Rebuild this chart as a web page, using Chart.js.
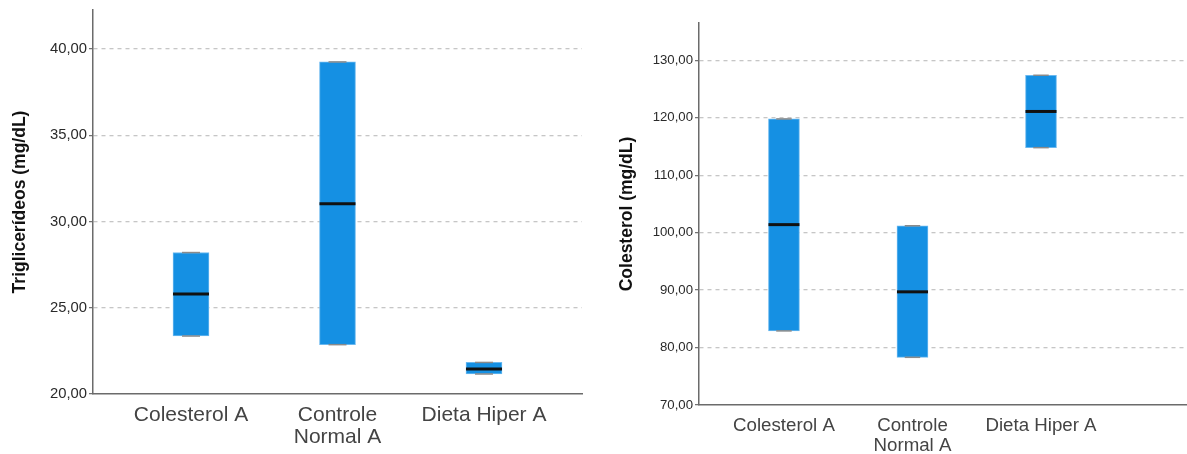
<!DOCTYPE html>
<html>
<head>
<meta charset="utf-8">
<script src="https://cdn.jsdelivr.net/npm/chart.js@4/dist/chart.umd.min.js"></script>
<style>
  body { margin: 0; background: #fff; width: 1187px; height: 454px; overflow: hidden; position: relative; }
  .box { position: absolute; top: 0; height: 454px; }
  #leftBox { left: 0; width: 590px; }
  #rightBox { left: 600px; width: 587px; }
</style>
</head>
<body>
<div class="box" id="leftBox"><canvas id="trigChart"></canvas></div>
<div class="box" id="rightBox"><canvas id="colChart"></canvas></div>
<script>
// Groups on the x axis
const categories = ['Colesterol A', 'Controle Normal A', 'Dieta Hiper A'];
const categoryLabels = ['Colesterol A', ['Controle', 'Normal A'], 'Dieta Hiper A'];

// Triglicerídeos (mg/dL): box low / high and median
const trigLow = [23.36, 22.86, 21.16];
const trigHigh = [28.20, 39.25, 21.83];
const trigMedian = [25.80, 31.03, 21.45];
const trigTicks = [20, 25, 30, 35, 40];

// Colesterol (mg/dL): box low / high and median
const colLow = [82.9, 78.3, 114.8];
const colHigh = [119.8, 101.2, 127.4];
const colMedian = [101.4, 89.7, 121.1];
const colTicks = [70, 80, 90, 100, 110, 120, 130];

const FONT = "Arial, 'Liberation Sans', sans-serif";

function fmt(v) {
    return v.toFixed(2).replace('.', ',');
}

function makeChart(id, opt) {
    const boxes = categories.map((c, i) => ({ x: i, y: [opt.low[i], opt.high[i]] }));
    const medians = categories.map((c, i) => ({ x: i, y: opt.median[i] }));
    const caps = [];
    categories.forEach((c, i) => {
        caps.push({ x: i, y: opt.low[i] });
        caps.push({ x: i, y: opt.high[i] });
    });

    return new Chart(document.getElementById(id), {
        type: 'bar',
        data: {
            datasets: [{
                type: 'scatter',
                data: medians,
                pointStyle: 'line',
                pointRadius: opt.boxWidth / 2,
                pointHoverRadius: opt.boxWidth / 2,
                pointBorderWidth: 3,
                pointBorderColor: '#111',
                order: 0
            }, {
                type: 'scatter',
                data: caps,
                pointStyle: 'line',
                pointRadius: opt.boxWidth / 4,
                pointHoverRadius: opt.boxWidth / 4,
                pointBorderWidth: 1.5,
                pointBorderColor: '#8a8a8a',
                order: 1
            }, {
                data: boxes,
                backgroundColor: '#1590e3',
                borderColor: '#6ab8ef',
                borderWidth: 1,
                borderSkipped: false,
                barThickness: opt.boxWidth,
                order: 2
            }]
        },
        options: {
            responsive: true,
            maintainAspectRatio: false,
            animation: false,
            layout: { padding: opt.padding, autoPadding: false },
            plugins: {
                legend: { display: false },
                tooltip: { enabled: false }
            },
            scales: {
                x: {
                    type: 'linear',
                    offset: false,
                    min: opt.xMin,
                    max: opt.xMax,
                    afterBuildTicks: (scale) => {
                        scale.ticks = categories.map((c, i) => ({ value: i }));
                    },
                    afterFit: (scale) => {
                        scale.height = opt.xHeight;
                        scale.paddingLeft = 0;
                        scale.paddingRight = 0;
                    },
                    grid: { display: false },
                    border: { display: true, color: '#6b6b6b', width: 1.5 },
                    ticks: {
                        autoSkip: false,
                        maxRotation: 0,
                        padding: opt.xPad,
                        color: '#444',
                        font: { family: FONT, size: opt.catSize, lineHeight: 1.08 },
                        callback: (v) => categoryLabels[v]
                    }
                },
                y: {
                    min: opt.yMin,
                    max: opt.yMax,
                    afterBuildTicks: (scale) => {
                        scale.ticks = opt.ticks.map(v => ({ value: v }));
                    },
                    afterFit: (scale) => {
                        scale.width = opt.yWidth;
                        scale.paddingTop = 0;
                        scale.paddingBottom = 0;
                    },
                    grid: {
                        color: (ctx) => ctx.tick && ctx.tick.value === opt.yMin ? 'rgba(0,0,0,0)' : '#c6c6c6',
                        lineWidth: 1.3,
                        drawTicks: true,
                        tickLength: 4,
                        tickColor: '#6b6b6b',
                        tickWidth: 1.2
                    },
                    border: { display: true, color: '#6b6b6b', width: 1.5, dash: [4, 4] },
                    title: {
                        display: true,
                        text: opt.title,
                        color: '#111',
                        font: { family: FONT, size: 17.5, weight: 'bold' },
                        padding: { top: opt.titlePad, bottom: 0 }
                    },
                    ticks: {
                        padding: 2,
                        color: '#2a2a2a',
                        font: { family: FONT, size: opt.tickSize },
                        callback: (v) => fmt(v)
                    }
                }
            }
        }
    });
}

window.onload = function() {
    makeChart('trigChart', {
        low: trigLow, high: trigHigh, median: trigMedian, ticks: trigTicks,
        title: 'Triglicerídeos (mg/dL)',
        yMin: 20, yMax: 42.26,
        xMin: -0.669, xMax: 2.669,
        boxWidth: 36,
        padding: { top: 10, right: 8, left: 0, bottom: 0 },
        yWidth: 93, xHeight: 60, xPad: 1.5,
        catSize: 21, tickSize: 14.8, titlePad: 10
    });

    makeChart('colChart', {
        low: colLow, high: colHigh, median: colMedian, ticks: colTicks,
        title: 'Colesterol (mg/dL)',
        yMin: 70, yMax: 136.5,
        xMin: -0.661, xMax: 3.136,
        boxWidth: 31,
        padding: { top: 23, right: 0, left: 0, bottom: 0 },
        yWidth: 99, xHeight: 49, xPad: 2.7,
        catSize: 18.7, tickSize: 13.2, titlePad: 16.5
    });
};
</script>
</body>
</html>
